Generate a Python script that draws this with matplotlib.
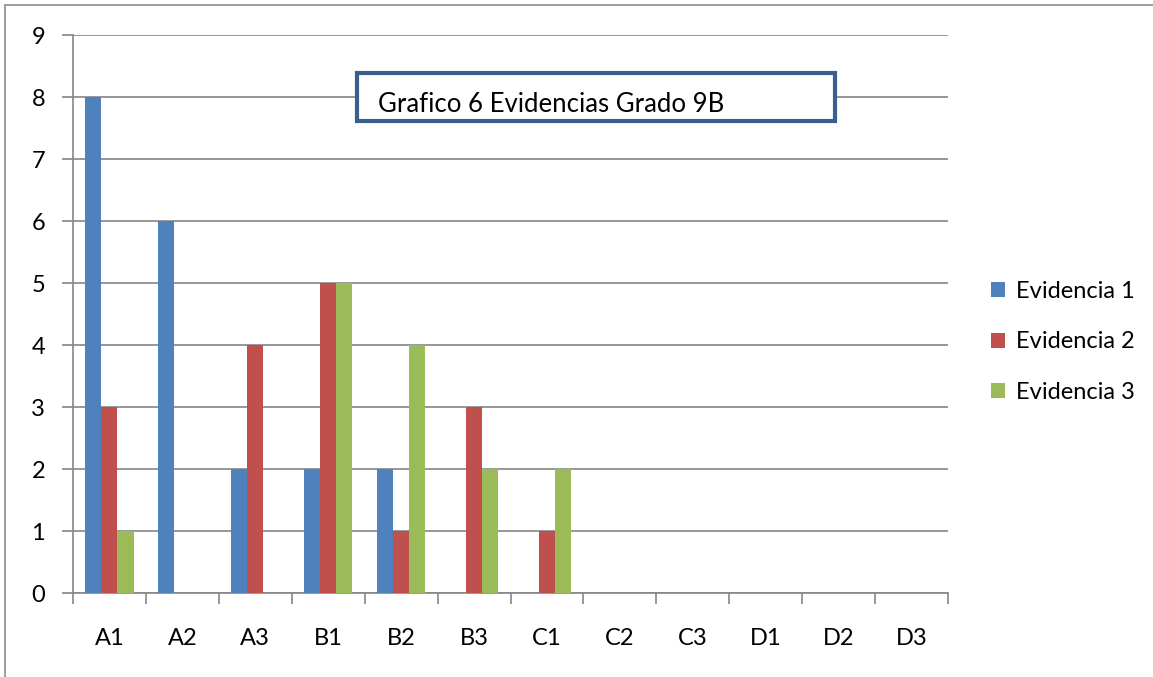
import matplotlib.pyplot as plt
import numpy as np
from matplotlib.patches import Rectangle

categories = ['A1', 'A2', 'A3', 'B1', 'B2', 'B3', 'C1', 'C2', 'C3', 'D1', 'D2', 'D3']
evidencia_1 = [8, 6, 2, 2, 2, 0, 0, 0, 0, 0, 0, 0]
evidencia_2 = [3, 0, 4, 5, 1, 3, 1, 0, 0, 0, 0, 0]
evidencia_3 = [1, 0, 0, 5, 4, 2, 2, 0, 0, 0, 0, 0]
series_names = ['Evidencia 1', 'Evidencia 2', 'Evidencia 3']
colors = ['#4F81BD', '#C0504D', '#9BBB59']
title_text = 'Grafico 6 Evidencias Grado 9B'

plt.rcParams['font.family'] = ['Lato', 'DejaVu Sans']
grid_col = '#868686'
fs = 17

fig = plt.figure(figsize=(11.53, 6.77), dpi=100)
ax = fig.add_axes([73 / 1153, 1 - 593 / 677, 875 / 1153, 558 / 677])

x = np.arange(len(categories))
w = 0.22
for i, vals in enumerate([evidencia_1, evidencia_2, evidencia_3]):
    ax.bar(x + (i - 1) * w, vals, width=w, color=colors[i], label=series_names[i], zorder=3)

ax.set_xlim(-0.5, len(categories) - 0.5)
ax.set_ylim(0, 9)
ax.set_yticks(range(10))
ax.yaxis.grid(True, color=grid_col, linewidth=1.2, zorder=0)

# category boundary ticks on the x axis, labels at centres
ax.set_xticks(np.arange(-0.5, len(categories)), minor=False)
ax.set_xticklabels([])
ax.set_xticks(x, minor=True)
ax.set_xticklabels(categories, minor=True)
ax.tick_params(axis='x', which='major', length=8, color=grid_col, width=1.2, direction='out')
ax.tick_params(axis='x', which='minor', length=0, pad=25, labelsize=fs)
ax.tick_params(axis='y', length=8, color=grid_col, width=1.2, pad=12, labelsize=fs)

for s in ['top', 'right']:
    ax.spines[s].set_visible(False)
for s in ['left', 'bottom']:
    ax.spines[s].set_color(grid_col)
    ax.spines[s].set_linewidth(1.2)

# title box
fig.patches.append(Rectangle((357 / 1153, 1 - 121 / 677), 478 / 1153, 48 / 677,
                             transform=fig.transFigure, fill=True, facecolor='white',
                             edgecolor='#3A5F8F', linewidth=3, zorder=5))
fig.text(378 / 1153, 1 - 104 / 677, title_text, fontsize=18.5, va='center', ha='left', zorder=6)

# outer frame
fig.patches.append(Rectangle((5 / 1153, -0.1), 1.2, 1 - 5 / 677 + 0.1,
                             transform=fig.transFigure, fill=False,
                             edgecolor='#8C8C8C', linewidth=1.2))

leg = ax.legend(loc='center left', bbox_to_anchor=(991 / 1153, 1 - 342 / 677),
                bbox_transform=fig.transFigure, frameon=False, fontsize=fs,
                borderpad=0, borderaxespad=0,
                handlelength=0.6, handleheight=0.6, handletextpad=0.45, labelspacing=1.25)

fig.savefig('out.png', dpi=100)
